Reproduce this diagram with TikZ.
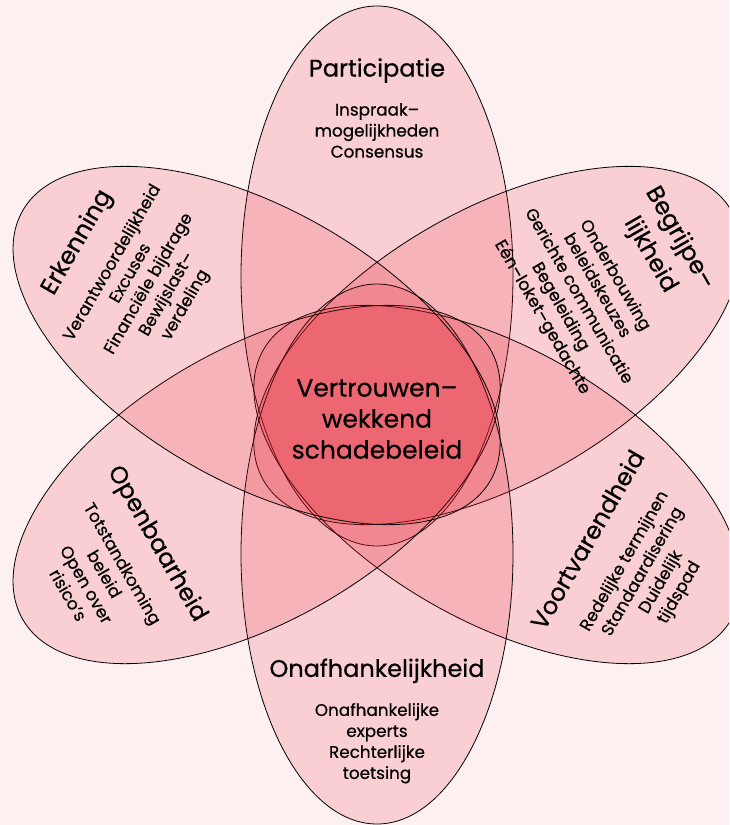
\documentclass[tikz,border=0pt]{standalone}
\usepackage{fontspec}
\setmainfont{Poppins}[FakeBold=0.6]
\usetikzlibrary{positioning}
\definecolor{bgpink}{RGB}{253,240,241}
\definecolor{petalred}{RGB}{232,24,40}
\newcommand{\titlesize}{\fontsize{24}{28}\selectfont}
\newcommand{\itemsize}{\fontsize{16.8}{21}\selectfont}
\newcommand{\coresize}{\fontsize{25}{31}\selectfont}

\begin{document}
\begin{tikzpicture}[
        x=1pt, y=-1pt,
        petal/.style={fill=petalred, fill opacity=0.15, draw=black, line width=0.8pt},
        petal text/.style={align=center, font=\itemsize, inner sep=0pt},
        core text/.style={align=center, font=\coresize, inner sep=0pt}
    ]
    \useasboundingbox[fill=bgpink] (0,0) rectangle (729,825);
    \clip (0,0) rectangle (729,825);
    \coordinate (centre) at (377,415);
    \foreach \angle in {90,30,-30,-90,-150,150} {
        \filldraw[petal, rotate around={\angle:(centre)}]
            (516,415) ellipse [x radius=270, y radius=136];
    }
    \node[core text] (core) at (377,419) {Vertrouwen–\\wekkend\\schadebeleid};
    \node[
        petal text
    ] (participatie) at (377,108) {{\titlesize Participatie}\\[18pt]Inspraak–\\mogelijkheden\\Consensus};
    \node[
        petal text,
        rotate=-60
    ] (begrijpelijkheid) at (612,277) {{\titlesize Begrijpe–}\\[8pt]{\titlesize lijkheid}\\[18pt]Onderbouwing\\beleidskeuzes\\Gerichte communicatie\\Begeleiding\\Eén–loket–gedachte};
    \node[
        petal text,
        rotate=60
    ] (voortvarendheid) at (633,566) {{\titlesize Voortvarendheid}\\[18pt]Redelijke termijnen\\Standaardisering\\Duidelijk\\tijdspad};
    \node[
        petal text
    ] (onafhankelijkheid) at (377,721) {{\titlesize Onafhankelijkheid}\\[18pt]Onafhankelijke\\experts\\Rechterlijke\\toetsing};
    \node[
        petal text,
        rotate=-60
    ] (openbaarheid) at (115,568) {{\titlesize Openbaarheid}\\[18pt]Totstandkoming\\beleid\\Open over\\risico’s};
    \node[
        petal text,
        rotate=60
    ] (erkenning) at (130,273) {{\titlesize Erkenning}\\[18pt]Verantwoordelijkheid\\Excuses\\Financiële bijdrage\\Bewijslast–\\verdeling};
\end{tikzpicture}
\end{document}
